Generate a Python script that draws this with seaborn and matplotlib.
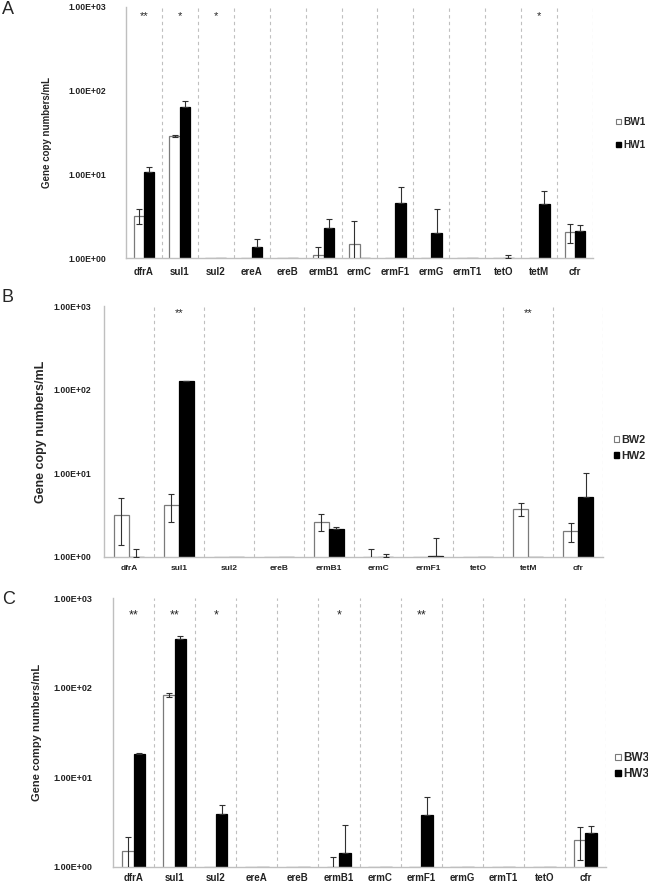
import numpy as np
import pandas as pd
import matplotlib
matplotlib.use('Agg')
import matplotlib.pyplot as plt
import seaborn as sns
from matplotlib.ticker import FixedLocator, FuncFormatter, NullLocator
from matplotlib.patches import Patch

# panel A
genes_a = ['dfrA', 'sul1', 'sul2', 'ereA', 'ereB', 'ermB1', 'ermC', 'ermF1', 'ermG', 'ermT1', 'tetO', 'tetM', 'cfr']
bw1 = [3.2, 28.7, 1, 1, 1, 1.09, 1.47, 1, 1, 1, 1, 1, 2.05]
bw1_sd = [0.65, 1.0, 0, 0, 0, 0.25, 1.32, 0, 0, 0, 0, 0, 0.52]
hw1 = [10.6, 63.8, 1, 1.35, 1, 2.26, 1, 4.54, 1.97, 1, 1, 4.46, 2.12]
hw1_sd = [1.5, 11, 0, 0.35, 0, 0.66, 0, 2.5, 1.88, 0, 0.08, 1.8, 0.34]
stars_a = ['**', '*', '*', '', '', '', '', '', '', '', '', '*', '']

# panel B
genes_b = ['dfrA', 'sul1', 'sul2', 'ereB', 'ermB1', 'ermC', 'ermF1', 'tetO', 'tetM', 'cfr']
bw2 = [3.21, 4.15, 1, 1, 2.65, 1, 1, 1, 3.79, 2.05]
bw2_sd = [1.83, 1.55, 0, 0, 0.62, 0.26, 0, 0, 0.68, 0.53]
hw2 = [1, 126.5, 1, 1, 2.14, 1, 1.02, 1, 1, 5.22]
hw2_sd = [0.25, 1.5, 0, 0, 0.17, 0.08, 0.68, 0, 0, 4.9]
stars_b = ['', '**', '', '', '', '', '', '', '**', '']

# panel C
genes_c = ['dfrA', 'sul1', 'sul2', 'ereA', 'ereB', 'ermB1', 'ermC', 'ermF1', 'ermG', 'ermT1', 'tetO', 'cfr']
bw3 = [1.5, 83.8, 1, 1, 1, 1, 1, 1, 1, 1, 1, 1.99]
bw3_sd = [0.65, 4.5, 0, 0, 0, 0.3, 0, 0, 0, 0, 0, 0.8]
hw3 = [18.0, 345, 3.95, 1, 1, 1.43, 1, 3.78, 1, 1, 1, 2.38]
hw3_sd = [0.8, 28, 1.0, 0, 0, 1.52, 0, 2.2, 0, 0, 0, 0.5]
stars_c = ['**', '**', '*', '', '', '*', '', '**', '', '', '', '']

sns.set_style('white')
plt.rcParams['font.family'] = ['Liberation Sans', 'DejaVu Sans']

GREY = '#bfbfbf'
EDGE = '#7a7a7a'


def draw_panel(ax, genes, bw, bw_sd, hw, hw_sd, names, stars, ylabel, st):
    n = len(genes)
    df = pd.DataFrame({
        'gene': genes * 2,
        'group': [names[0]] * n + [names[1]] * n,
        'value': bw + hw,
    })
    sns.barplot(data=df, x='gene', y='value', hue='group', order=genes, hue_order=names,
                palette={names[0]: 'white', names[1]: 'black'}, saturation=1,
                width=st['width'], errorbar=None, legend=False, ax=ax, zorder=2)
    for cont, col in zip(ax.containers, [EDGE, 'black']):
        for bar in cont:
            bar.set_edgecolor(col)
            bar.set_linewidth(0.9)

    # error bars from the bar positions; black bars only show the upper half
    for k, (cont, vals, sd) in enumerate(zip(ax.containers, [bw, hw], [bw_sd, hw_sd])):
        xs = np.array([b.get_x() + b.get_width() / 2 for b in cont])
        vals = np.array(vals)
        sd = np.array(sd)
        m = sd > 0
        lower = sd[m] if k == 0 else np.zeros(m.sum())
        ax.errorbar(xs[m], vals[m], yerr=[lower, sd[m]], fmt='none', ecolor='#303030',
                    elinewidth=0.8, capsize=2, capthick=0.8, zorder=3)

    ax.set_yscale('log')
    ax.set_ylim(1, 1000)
    ax.set_xlim(-0.5, n - 0.5)
    ax.yaxis.set_major_locator(FixedLocator([1, 10, 100, 1000]))
    ax.yaxis.set_minor_locator(NullLocator())
    ax.yaxis.set_major_formatter(FuncFormatter(lambda v, p: f"{v:.2E}"))

    ax.set_xticks(range(n))
    ax.set_xticklabels(genes, fontsize=st['xfs'], fontweight='bold')
    ax.set_xticks(np.arange(n + 1) - 0.5, minor=True)
    ax.tick_params(axis='x', which='major', length=0, pad=st['xpad'], labelcolor='#222222')
    ax.tick_params(axis='x', which='minor', length=3, width=0.8, color=GREY, direction='out')
    ax.tick_params(axis='y', which='major', length=3, width=0.8, color=GREY, direction='out',
                   labelsize=st['yfs'], pad=st['ypad'], labelcolor='#222222')
    for lab in ax.get_yticklabels():
        lab.set_fontweight('bold')

    for i in range(n):
        ax.axvline(i + 0.5, color='#bfbfbf', linestyle=(0, (3, 3)), linewidth=0.8, zorder=1)

    sns.despine(ax=ax)
    for s in ['left', 'bottom']:
        ax.spines[s].set_color(GREY)
        ax.spines[s].set_linewidth(1)

    ax.set_xlabel('')
    ax.set_ylabel(ylabel, fontsize=st['lfs'], fontweight='bold')
    ax.yaxis.set_label_coords(st['lx'], 0.5)

    for i, s in enumerate(stars):
        if s:
            ax.text(i, st['sy'], s, transform=ax.get_xaxis_transform(), ha='center',
                    va='center', fontsize=st['sfs'])

    handles = [Patch(facecolor='white', edgecolor=EDGE, linewidth=0.8),
               Patch(facecolor='black', edgecolor='black')]
    ax.legend(handles, names, loc='center left', bbox_to_anchor=(st['legx'], st['legy']),
              frameon=False, handlelength=0.5, handleheight=0.5, handletextpad=0.2,
              borderpad=0, borderaxespad=0, labelspacing=st['lsp'],
              prop={'weight': 'bold', 'size': st['legfs']})


fig = plt.figure(figsize=(6.48, 8.86), dpi=100)
ax_a = fig.add_axes([126 / 648, 1 - 258 / 886, 467 / 648, 251 / 886])
ax_b = fig.add_axes([104 / 648, 1 - 557 / 886, 499 / 648, 251 / 886])
ax_c = fig.add_axes([113 / 648, 1 - 867 / 886, 493 / 648, 269 / 886])

draw_panel(ax_a, genes_a, bw1, bw1_sd, hw1, hw1_sd, ['BW1', 'HW1'], stars_a,
           'Gene copy numbers/mL',
           dict(width=0.58, xfs=7, xpad=6.5, yfs=6.2, ypad=11, lfs=7, lx=-0.158,
                sy=0.964, sfs=8, legx=1.049, legy=0.496, lsp=1.3, legfs=7.2))
draw_panel(ax_b, genes_b, bw2, bw2_sd, hw2, hw2_sd, ['BW2', 'HW2'], stars_b,
           'Gene copy numbers/mL',
           dict(width=0.6, xfs=6, xpad=6, yfs=6.2, ypad=6.5, lfs=9, lx=-0.115,
                sy=0.972, sfs=8, legx=1.022, legy=0.434, lsp=0.55, legfs=7.8))
draw_panel(ax_c, genes_c, bw3, bw3_sd, hw3, hw3_sd, ['BW3', 'HW3'], stars_c,
           'Gene compy numbers/mL',
           dict(width=0.57, xfs=7, xpad=4.5, yfs=6.5, ypad=12, lfs=8, lx=-0.145,
                sy=0.937, sfs=9, legx=1.018, legy=0.375, lsp=0.35, legfs=8.5))

fig.text(0.003, 1 - 9 / 886, 'A', fontsize=13, va='center', ha='left')
fig.text(0.003, 1 - 298 / 886, 'B', fontsize=13, va='center', ha='left')
fig.text(0.003, 1 - 600 / 886, 'C', fontsize=13, va='center', ha='left')

fig.savefig('out.png', dpi=100)
